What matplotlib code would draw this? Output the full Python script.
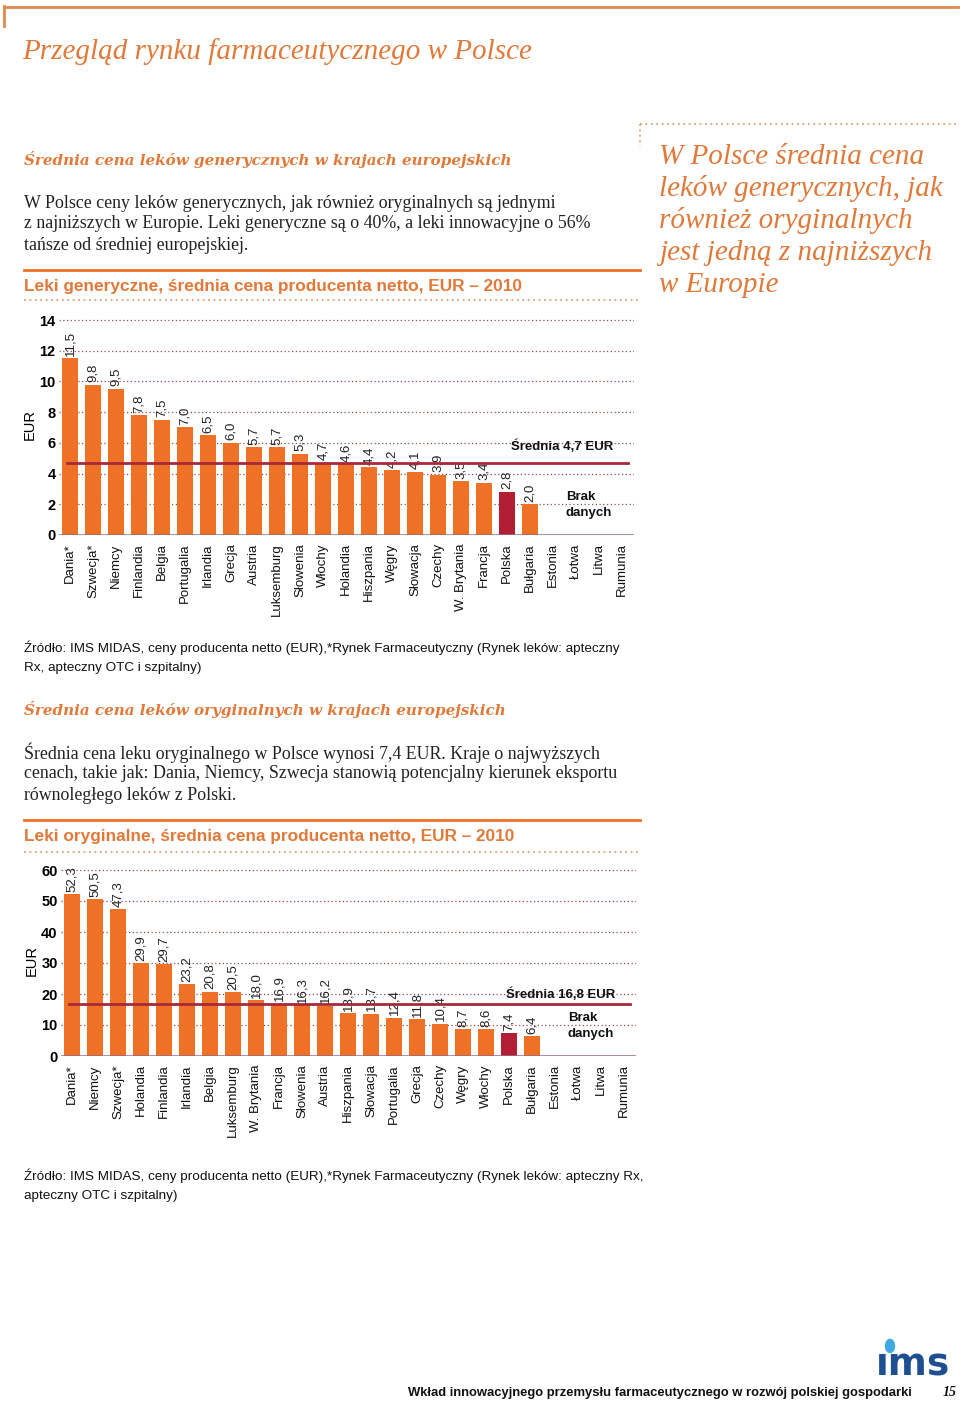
import matplotlib

matplotlib.use("Agg")
import matplotlib.pyplot as plt
from matplotlib.lines import Line2D

W, H = 960, 1402

# dane: leki generyczne 2010
gen_countries = ["Dania*", "Szwecja*", "Niemcy", "Finlandia", "Belgia", "Portugalia",
                 "Irlandia", "Grecja", "Austria", "Luksemburg", "Słowenia", "Włochy",
                 "Holandia", "Hiszpania", "Węgry", "Słowacja", "Czechy", "W. Brytania",
                 "Francja", "Polska", "Bułgaria", "Estonia", "Łotwa", "Litwa", "Rumunia"]
gen_values = [11.5, 9.8, 9.5, 7.8, 7.5, 7.0, 6.5, 6.0, 5.7, 5.7, 5.3, 4.7, 4.6, 4.4,
              4.2, 4.1, 3.9, 3.5, 3.4, 2.8, 2.0, None, None, None, None]
gen_avg = 4.7
gen_ticks = [0, 2, 4, 6, 8, 10, 12, 14]

# dane: leki oryginalne 2010
orig_countries = ["Dania*", "Niemcy", "Szwecja*", "Holandia", "Finlandia", "Irlandia",
                  "Belgia", "Luksemburg", "W. Brytania", "Francja", "Słowenia", "Austria",
                  "Hiszpania", "Słowacja", "Portugalia", "Grecja", "Czechy", "Węgry",
                  "Włochy", "Polska", "Bułgaria", "Estonia", "Łotwa", "Litwa", "Rumunia"]
orig_values = [52.3, 50.5, 47.3, 29.9, 29.7, 23.2, 20.8, 20.5, 18.0, 16.9, 16.3, 16.2,
               13.9, 13.7, 12.4, 11.8, 10.4, 8.7, 8.6, 7.4, 6.4, None, None, None, None]
orig_avg = 16.8
orig_ticks = [0, 10, 20, 30, 40, 50, 60]

ORANGE = "#EF7125"
TXT_OR = "#E0793A"
POLSKA = "#B21F35"
AVG = "#A8283C"
GRID = "#9A4A4A"
BASE = "#9C6A80"

SERIF = "Liberation Serif"
SANS = "Liberation Sans"


def fx(x):
    return x / W


def fy(y):
    return 1 - y / H


fig = plt.figure(figsize=(W / 100, H / 100), dpi=100)


def hline(y, x0, x1, **kw):
    fig.add_artist(Line2D([fx(x0), fx(x1)], [fy(y), fy(y)], transform=fig.transFigure, **kw))


def vline(x, y0, y1, **kw):
    fig.add_artist(Line2D([fx(x), fx(x)], [fy(y0), fy(y1)], transform=fig.transFigure, **kw))


def txt(x, y, s, **kw):
    fig.text(fx(x), fy(y), s, va="center", ha=kw.pop("ha", "left"), **kw)


# ramka strony
hline(7, 4, 958, color="#E08A50", lw=2)
vline(4, 6, 26, color="#E08A50", lw=2)
txt(22, 52, "Przegląd rynku farmaceutycznego w Polsce", family=SERIF, style="italic",
    size=21, color=TXT_OR)

# ramka z cytatem
hline(124, 640, 958, color="#E3A070", lw=1.3, ls=(0, (1, 2)))
vline(640, 124, 146, color="#E3A070", lw=1.3, ls=(0, (1, 2)))
quote = ["W Polsce średnia cena", "leków generycznych, jak", "również oryginalnych",
         "jest jedną z najniższych", "w Europie"]
for i, line in enumerate(quote):
    txt(659, 157 + 32 * i, line, family=SERIF, style="italic", size=21, color=TXT_OR)

# sekcja 1
txt(24, 160, "Średnia cena leków generycznych w krajach europejskich", family="DejaVu Serif",
    style="italic", weight="bold", size=10.9, color=TXT_OR)
par1 = ["W Polsce ceny leków generycznych, jak również oryginalnych są jednymi",
        "z najniższych w Europie. Leki generyczne są o 40%, a leki innowacyjne o 56%",
        "tańsze od średniej europejskiej."]
for i, line in enumerate(par1):
    txt(24, 203 + 21 * i, line, family=SERIF, size=12.9, color="#222222")
hline(270, 24, 640, color=ORANGE, lw=2)
txt(24, 287, "Leki generyczne, średnia cena producenta netto, EUR – 2010", family=SANS,
    weight="bold", size=12.4, color=TXT_OR)
hline(300, 24, 640, color="#E3A070", lw=1.3, ls=(0, (1, 2)))

# sekcja 2
txt(24, 648, "Źródło: IMS MIDAS, ceny producenta netto (EUR),*Rynek Farmaceutyczny (Rynek leków: apteczny",
    family=SANS, size=9.7, color="#111111")
txt(24, 668, "Rx, apteczny OTC i szpitalny)", family=SANS, size=9.7, color="#111111")
txt(24, 709, "Średnia cena leków oryginalnych w krajach europejskich", family="DejaVu Serif",
    style="italic", weight="bold", size=10.9, color=TXT_OR)
par2 = ["Średnia cena leku oryginalnego w Polsce wynosi 7,4 EUR. Kraje o najwyższych",
        "cenach, takie jak: Dania, Niemcy, Szwecja stanowią potencjalny kierunek eksportu",
        "równoległego leków z Polski."]
for i, line in enumerate(par2):
    txt(24, 753 + 21 * i, line, family=SERIF, size=12.9, color="#222222")
hline(820, 24, 640, color=ORANGE, lw=2)
txt(24, 837, "Leki oryginalne, średnia cena producenta netto, EUR – 2010", family=SANS,
    weight="bold", size=12.4, color=TXT_OR)
hline(852, 24, 640, color="#E3A070", lw=1.3, ls=(0, (1, 2)))

txt(24, 1176, "Źródło: IMS MIDAS, ceny producenta netto (EUR),*Rynek Farmaceutyczny (Rynek leków: apteczny Rx,",
    family=SANS, size=9.7, color="#111111")
txt(24, 1196, "apteczny OTC i szpitalny)", family=SANS, size=9.7, color="#111111")


def chart(left, right, y0px, pxunit, ytop, countries, values, avg, ticks, avg_label,
          lbl_x, avg_y, brak_y):
    n = len(countries)
    top = y0px - ytop * pxunit
    ax = fig.add_axes([fx(left), fy(y0px), fx(right) - fx(left), (y0px - top) / H])
    ax.set_xlim(-0.5, n - 0.5)
    ax.set_ylim(0, ytop)
    for s in ax.spines.values():
        s.set_visible(False)
    for t in ticks[1:]:
        ax.axhline(t, color=GRID, lw=0.9, ls=(0, (1, 2)), zorder=0)
    xs = [i for i, v in enumerate(values) if v is not None]
    hs = [values[i] for i in xs]
    cols = [POLSKA if countries[i] == "Polska" else ORANGE for i in xs]
    ax.bar(xs, hs, width=0.72, color=cols, zorder=2)
    for x, h in zip(xs, hs):
        ax.text(x, h + ytop * 0.012, f"{h:.1f}".replace(".", ","), rotation=90,
                ha="center", va="bottom", family=SANS, size=9.5, color="#222222",
                clip_on=False, zorder=3)
    ax.axhline(0, color=BASE, lw=1.8, zorder=3)
    ax.axhline(avg, xmin=0.015, xmax=0.99, color=AVG, lw=2, zorder=4)
    ax.set_yticks(ticks)
    ax.set_yticklabels([str(t) for t in ticks], family=SANS, weight="bold", size=10.5)
    ax.tick_params(axis="y", length=0, pad=2)
    ax.set_xticks(range(n))
    ax.set_xticklabels(countries, rotation=90, family=SANS, size=9.5, color="#111111")
    ax.tick_params(axis="x", length=0, pad=6)
    ax.set_ylabel("EUR", family=SANS, size=10.5, labelpad=2)
    txt(lbl_x, avg_y, avg_label, family=SANS, weight="bold", size=9.5, color="#111111",
        ha="right")
    txt(lbl_x - 47, brak_y, "Brak", family=SANS, weight="bold", size=9.5, color="#111111")
    txt(lbl_x - 47, brak_y + 16, "danych", family=SANS, weight="bold", size=9.5,
        color="#111111")
    return ax


chart(58.5, 633.5, 535, 215 / 14, 14.4, gen_countries, gen_values, gen_avg, gen_ticks,
      "Średnia 4,7 EUR", 613, 446, 497)
chart(60.5, 635.5, 1056, 186 / 60, 61.5, orig_countries, orig_values, orig_avg,
      orig_ticks, "Średnia 16,8 EUR", 615, 994, 1018)

# stopka
fig.text(fx(950), fy(1375), "ıms", family="DejaVu Sans", weight="bold", size=27,
         color="#1D4F91", ha="right", va="baseline")
fig.add_artist(plt.Circle((fx(890), fy(1346)), 4.5 / W, color="#3FA9E0",
                          transform=fig.transFigure))
txt(912, 1393, "Wkład innowacyjnego przemysłu farmaceutycznego w rozwój polskiej gospodarki",
    family=SANS, weight="bold", size=9.4, color="#111111", ha="right")
txt(957, 1393, "15", family=SERIF, style="italic", weight="bold", size=10,
    color="#111111", ha="right")

fig.savefig("out.png", dpi=100)
